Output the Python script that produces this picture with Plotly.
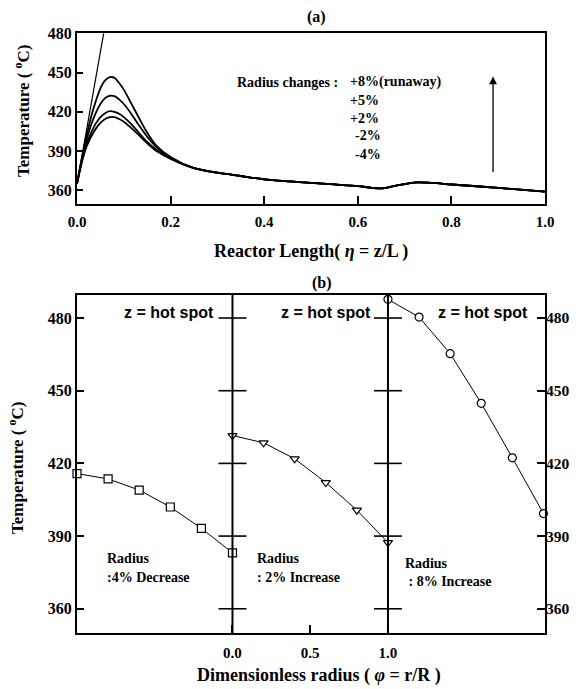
import plotly.graph_objects as go

# ---------------- Data: panel (a) ----------------
eta = [0, 0.01, 0.02, 0.03, 0.04, 0.05, 0.06, 0.07, 0.08, 0.09, 0.10, 0.115, 0.13, 0.15, 0.17, 0.20,
       0.25, 0.30, 0.35, 0.40, 0.45, 0.50, 0.55, 0.60, 0.63, 0.65, 0.68, 0.72, 0.76, 0.80, 0.90, 1.00]
tail = [377, 373.5, 371, 368.5, 367, 365.8, 364.6, 363.3, 362, 361.5, 363.5, 366, 365.7, 364.5, 362, 359]
T_p5 = [365, 384, 401, 416, 428, 438, 444, 446.5, 446, 442, 437, 427, 417, 404, 394, 385.5] + tail
T_p2 = [365, 383, 398, 410, 419, 426, 430.5, 432.3, 432, 429.5, 426, 419, 411, 401, 393, 385] + tail
T_m2 = [365, 382, 395, 404, 411, 416, 419, 420.5, 420, 418.5, 416, 411, 405, 397, 391, 384.5] + tail
T_m4 = [365, 381, 393, 401, 407, 411.5, 414.5, 416, 416, 414.5, 412.5, 408, 403, 396, 390, 384] + tail
eta_run = [0, 0.057]
T_run = [365, 480]

xticks_a = [0.0, 0.2, 0.4, 0.6, 0.8, 1.0]
xtick_text_a = ["0.0", "0.2", "0.4", "0.6", "0.8", "1.0"]
yticks = [360, 390, 420, 450, 480]
legend_lines = ["+8%(runaway)", "+5%", "+2%", "-2%", "-4%"]

# ---------------- Data: panel (b) ----------------
phi = [0.0, 0.2, 0.4, 0.6, 0.8, 1.0]
T_dec4 = [415.8, 413.6, 409.0, 402.0, 393.2, 383.1]
T_inc2 = [431.5, 428.5, 421.9, 412.1, 400.7, 387.3]
T_inc8 = [487.7, 480.4, 465.3, 444.8, 422.3, 399.3]
panel_offsets = [-1, 0, 1]
xticks_b = [0.0, 0.5, 1.0]
xtick_text_b = ["0.0", "0.5", "1.0"]

W, H = 578, 689
def px(x): return x / W
def py(y): return 1 - y / H

SERIF = "Liberation Serif"
SANS = "Liberation Sans"
BF = dict(family=SERIF, size=15, color="black", weight="bold")

fig = go.Figure()

# panel (a) curves
for T in [T_p5, T_p2, T_m2, T_m4]:
    fig.add_trace(go.Scatter(x=eta, y=T, mode="lines", line=dict(color="black", width=1.8, shape="spline", smoothing=0.8),
                             xaxis="x", yaxis="y", hoverinfo="skip"))
fig.add_trace(go.Scatter(x=eta_run, y=T_run, mode="lines", line=dict(color="black", width=1.2),
                         xaxis="x", yaxis="y", hoverinfo="skip"))

# panel (b) series
series_b = [(T_dec4, "square", "y2"), (T_inc2, "triangle-down", "y2"), (T_inc8, "circle", "y3")]
for (T, sym, ya), off in zip(series_b, panel_offsets):
    fig.add_trace(go.Scatter(x=[p + off for p in phi], y=T, mode="lines+markers",
                             line=dict(color="black", width=1),
                             marker=dict(symbol=sym, size=8, color="white", line=dict(color="black", width=1.2)),
                             xaxis="x2", yaxis=ya, cliponaxis=False, hoverinfo="skip"))

# cross ticks on the internal divider lines
dividers = panel_offsets[1:]
fig.add_trace(go.Scatter(x=[d for d in dividers for _ in yticks], y=[t for _ in dividers for t in yticks],
                         mode="markers", marker=dict(symbol="line-ew", size=20, line=dict(color="black", width=1.6)),
                         xaxis="x2", yaxis="y2", cliponaxis=False, hoverinfo="skip"))

shapes = []
for d in dividers:
    shapes.append(dict(type="line", xref="x2", yref="y2 domain", x0=d, x1=d, y0=0, y1=1,
                       line=dict(color="black", width=2)))

axis_common = dict(showline=True, linecolor="black", linewidth=2, mirror=True, showgrid=False, zeroline=False,
                   ticks="inside", tickcolor="black", tickwidth=1.5, automargin=False)
YF = dict(family=SERIF, size=16, color="black", weight="bold")

fig.update_layout(
    template="none",
    width=W, height=H, margin=dict(l=0, r=0, t=0, b=0, pad=0), autosize=False,
    paper_bgcolor="white", plot_bgcolor="white", showlegend=False,
    xaxis=dict(domain=[px(77), px(545)], range=[0, 1], anchor="y", tickvals=xticks_a, ticktext=xtick_text_a,
               ticklen=8, tickfont=BF, ticklabelstandoff=3, **axis_common),
    yaxis=dict(domain=[py(203.5), py(33.3)], range=[350, 480], anchor="x", tickvals=yticks,
               ticklen=6, tickfont=YF, **axis_common),
    xaxis2=dict(domain=[px(77), px(545)], range=[-1, 2.01], anchor="y2", tickvals=xticks_b, ticktext=xtick_text_b,
                ticklen=8, tickfont=BF, ticklabelstandoff=5, **axis_common),
    yaxis2=dict(domain=[py(633), py(295)], range=[350, 489.5], anchor="x2", tickvals=yticks,
                ticklen=7, tickfont=YF, **axis_common),
    yaxis3=dict(domain=[py(633), py(295)], range=[350, 489.5], anchor="x2", overlaying="y2", side="right",
                tickvals=yticks, ticks="inside", ticklen=8, tickcolor="black", tickwidth=1.5, automargin=False,
                tickfont=dict(YF, size=15.5), showgrid=False, zeroline=False, showline=False),
    shapes=shapes,
)

ann = []
def text(x, y, s, size=14, family=SERIF, xanchor="center", angle=0, weight="bold"):
    ann.append(dict(x=px(x), y=py(y), xref="paper", yref="paper", text=s, showarrow=False, xanchor=xanchor,
                    yanchor="middle", textangle=angle,
                    font=dict(family=family, size=size, color="black", weight=weight)))

# titles
text(316, 17, "(a)", size=16)
text(322, 283, "(b)", size=16)
text(311, 251, "Reactor Length( <i>η</i> = z/L )", size=18)
text(319, 675, "Dimensionless radius ( <i>φ</i> = r/R )", size=18)
text(22, 111, "Temperature ( <sup>o</sup>C)", size=17, angle=-90)
text(16, 468, "Temperature ( <sup>o</sup>C)", size=17, angle=-90)

# panel (a) legend text
text(235, 82, "Radius changes :", size=14, xanchor="left")
for s, yy in zip(legend_lines, [82, 100, 118, 136, 154]):
    text(348 if s.startswith("+") else 353, yy, s, size=14, xanchor="left")

# arrow
ann.append(dict(x=0.889, y=447, ax=0.889, ay=373, xref="x", yref="y", axref="x", ayref="y", text="",
                showarrow=True, arrowhead=2, arrowsize=1.2, arrowwidth=1.3, arrowcolor="black"))

# panel (b) texts
for cx in [169, 326, 483]:
    text(cx, 312, "z = hot spot", size=16, family=SANS)
text(105, 558, "Radius", size=14, xanchor="left")
text(105, 577, ":4% Decrease", size=14, xanchor="left")
text(255, 558, "Radius", size=14, xanchor="left")
text(255, 577, ": 2% Increase", size=14, xanchor="left")
text(403, 563, "Radius", size=14, xanchor="left")
text(403, 581, " : 8% Increase", size=14, xanchor="left")

fig.update_layout(annotations=ann)
fig.write_html("out.html", config={"displayModeBar": False},
               post_script="document.body.style.margin='0px';document.body.style.padding='0px';document.body.style.overflow='hidden';")
